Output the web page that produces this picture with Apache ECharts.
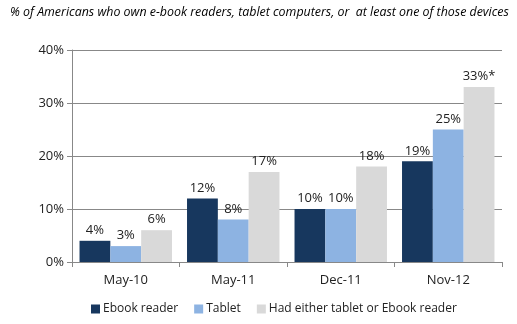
<!DOCTYPE html>
<html><head><meta charset="utf-8">
<script src="https://cdn.jsdelivr.net/npm/echarts@6/dist/echarts.min.js"></script>
<style>html,body{margin:0;padding:0;background:#fff}#c{width:517px;height:324px}</style>
</head><body><div id="c"></div>
<script>
const categories = ['May-10', 'May-11', 'Dec-11', 'Nov-12'];
const ebookReader = [4, 12, 10, 19];
const tablet = [3, 8, 10, 25];
const either = [6, 17, 18, 33];
const eitherLabels = ['6%', '17%', '18%', '33%*'];
const yTicks = [0, 10, 20, 30, 40];
const seriesNames = ['Ebook reader', 'Tablet', 'Had either tablet or Ebook reader'];
const titleText = '% of Americans who own e-book readers, tablet computers, or  at least one of those devices';

const FONT = 'Open Sans';
const chart = echarts.init(document.getElementById('c'), null, {renderer: 'canvas'});
const lbl = {show: true, position: 'top', distance: 4, color: '#222', fontSize: 13, fontFamily: FONT};
chart.setOption({
  animation: false,
  title: {text: titleText, left: 5, top: 1, textStyle: {fontFamily: FONT, fontStyle: 'italic', fontWeight: 'normal', fontSize: 12.4, color: '#000'}},
  grid: {left: 72, right: 15, top: 50, bottom: 62, containLabel: false},
  legend: {
    data: seriesNames, left: 86, top: 298, itemWidth: 9, itemHeight: 9, itemGap: 16,
    icon: 'rect', textStyle: {fontFamily: FONT, fontSize: 12, color: '#222', padding: [0, 0, 0, -2]}
  },
  xAxis: {
    type: 'category', data: categories,
    axisLine: {lineStyle: {color: '#888'}},
    axisTick: {show: true, length: 5, lineStyle: {color: '#888'}},
    axisLabel: {fontFamily: FONT, fontSize: 13, color: '#222', margin: 12}
  },
  yAxis: {
    type: 'value', min: yTicks[0], max: yTicks[yTicks.length - 1], interval: 10,
    axisLine: {show: true, lineStyle: {color: '#888'}},
    axisTick: {show: true, length: 5, inside: false, lineStyle: {color: '#888'}},
    splitLine: {lineStyle: {color: '#888'}},
    axisLabel: {fontFamily: FONT, fontSize: 13, color: '#222', margin: 8, formatter: v => v + '%'}
  },
  series: [
    {name: seriesNames[0], type: 'bar', data: ebookReader, barGap: '0%', barCategoryGap: '14%',
     itemStyle: {color: '#17375E'}, label: Object.assign({}, lbl, {formatter: p => p.value + '%'})},
    {name: seriesNames[1], type: 'bar', data: tablet, barGap: '0%', barCategoryGap: '14%',
     itemStyle: {color: '#8DB3E2'}, label: Object.assign({}, lbl, {formatter: p => p.value + '%'})},
    {name: seriesNames[2], type: 'bar', data: either, barGap: '0%', barCategoryGap: '14%',
     itemStyle: {color: '#D9D9D9'}, label: Object.assign({}, lbl, {formatter: p => eitherLabels[p.dataIndex]})}
  ]
});
</script></body></html>
